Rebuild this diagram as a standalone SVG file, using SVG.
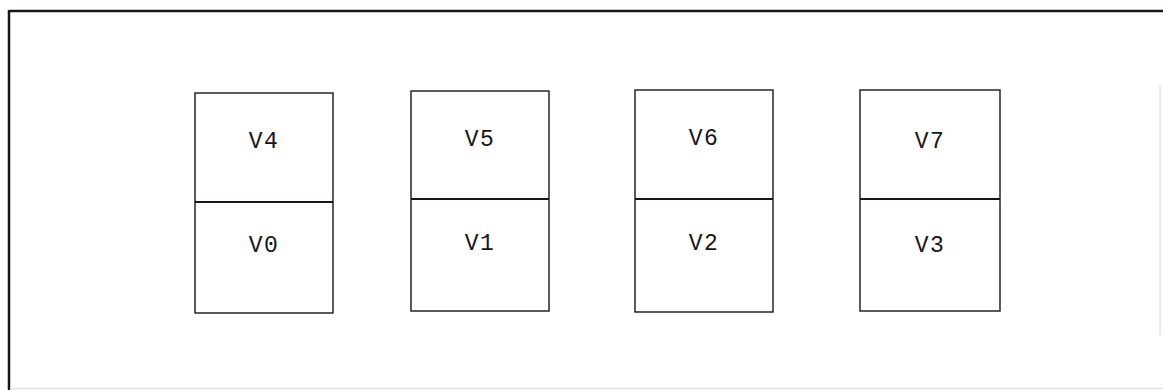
<svg xmlns="http://www.w3.org/2000/svg" width="1163" height="390" viewBox="0 0 1163 390">
<style>
.frame{stroke:#1a1416;stroke-width:2.5;fill:none}
.faint{stroke:#e2e2e2;stroke-width:1.5;fill:none}
.box{fill:#fff;stroke:#1a1416;stroke-width:1.4}
.div{stroke:#1a1416;stroke-width:2}
.lbl{font-family:"Liberation Mono","Courier New",monospace;font-size:23px;fill:#1a1416;text-anchor:middle;letter-spacing:1.5px}
</style>
<rect width="1163" height="390" fill="#fff"/>
<g id="frame">
<line class="frame" x1="9" y1="11" x2="1163" y2="11"/>
<line class="frame" x1="9" y1="10" x2="9" y2="390"/>
<line class="faint" x1="10" y1="388.5" x2="1163" y2="388.5"/>
<line class="faint" x1="1160" y1="85" x2="1160" y2="335"/>
</g>
<g id="connectors"></g>
<g id="node-col0">
<rect class="box" x="195" y="93" width="138" height="220"/>
<line class="div" x1="195" y1="202" x2="333" y2="202"/>
<text class="lbl" x="264" y="148">V4</text>
<text class="lbl" x="264" y="252">V0</text>
</g>
<g id="node-col1">
<rect class="box" x="411" y="91" width="138" height="220"/>
<line class="div" x1="411" y1="199" x2="549" y2="199"/>
<text class="lbl" x="480" y="146">V5</text>
<text class="lbl" x="480" y="250">V1</text>
</g>
<g id="node-col2">
<rect class="box" x="635" y="90" width="138" height="222"/>
<line class="div" x1="635" y1="199" x2="773" y2="199"/>
<text class="lbl" x="704" y="145">V6</text>
<text class="lbl" x="704" y="250">V2</text>
</g>
<g id="node-col3">
<rect class="box" x="860" y="90" width="140" height="221"/>
<line class="div" x1="860" y1="199" x2="1000" y2="199"/>
<text class="lbl" x="930" y="148">V7</text>
<text class="lbl" x="930" y="252">V3</text>
</g>
</svg>
